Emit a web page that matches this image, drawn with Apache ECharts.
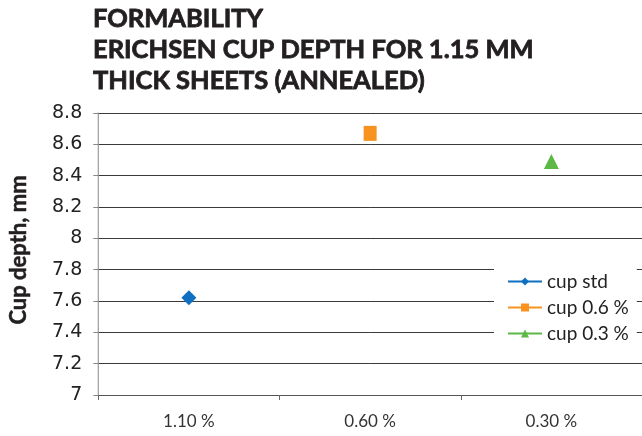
<!DOCTYPE html>
<html>
<head>
<meta charset="utf-8">
<script src="https://cdn.jsdelivr.net/npm/echarts@6/dist/echarts.min.js"></script>
<style>
  html, body { margin: 0; padding: 0; background: #fff; }
  #chart { width: 642px; height: 436px; }
</style>
</head>
<body>
<div id="chart"></div>
<script>
  // categories and values
  var categories = ['1.10 %', '0.60 %', '0.30 %'];
  var cupStd = [7.62, null, null];
  var cup06 = [null, 8.67, null];
  var cup03 = [null, null, 8.49];
  var yMin = 7, yMax = 8.8, yStep = 0.2;

  var chart = echarts.init(document.getElementById('chart'));
  chart.setOption({
    animation: false,
    title: {
      text: 'FORMABILITY\nERICHSEN CUP DEPTH FOR 1.15 MM\nTHICK SHEETS (ANNEALED)',
      left: 88,
      top: -2,
      textStyle: {
        fontFamily: 'Lato',
        fontWeight: 'bold',
        fontSize: 25.5,
        lineHeight: 31,
        color: '#231f20',
        textBorderColor: '#231f20',
        textBorderWidth: 0.8
      }
    },
    grid: { left: 95, right: 0, top: 113, bottom: 41 },
    legend: {
      left: 494,
      top: 266,
      orient: 'vertical',
      backgroundColor: '#fff',
      padding: [6, 8, 6, 13],
      itemWidth: 34,
      itemHeight: 10,
      itemGap: 7,
      textStyle: { fontFamily: 'Lato', fontSize: 19, color: '#222' },
      data: ['cup std', 'cup 0.6 %', 'cup 0.3 %']
    },
    xAxis: {
      type: 'category',
      data: categories,
      boundaryGap: true,
      axisLine: { lineStyle: { color: '#555', width: 1 } },
      axisTick: { show: true, length: 5, lineStyle: { color: '#666' } },
      axisLabel: { fontFamily: 'Lato', fontSize: 17, color: '#333', margin: 18 }
    },
    yAxis: {
      type: 'value',
      min: yMin,
      max: yMax,
      interval: yStep,
      name: 'Cup depth, mm',
      nameLocation: 'middle',
      nameGap: 68,
      nameTextStyle: {
        fontFamily: 'Lato', fontWeight: 'bold', fontSize: 22, color: '#231f20',
        textBorderColor: '#231f20', textBorderWidth: 0.5,
        padding: [0, 0, 0, 8]
      },
      axisLine: { show: true, lineStyle: { color: '#888' } },
      axisTick: { show: true, length: 5, lineStyle: { color: '#888' } },
      axisLabel: { fontFamily: 'DejaVu Sans', fontSize: 19, color: '#222', margin: 16 },
      splitLine: { lineStyle: { color: '#3a3a3a', width: 1 } }
    },
    series: [
      {
        name: 'cup std',
        type: 'line',
        data: cupStd,
        symbol: 'diamond',
        symbolSize: 15,
        itemStyle: { color: '#0f6fc0' },
        lineStyle: { color: '#0f6fc0', width: 3 }
      },
      {
        name: 'cup 0.6 %',
        type: 'line',
        data: cup06,
        symbol: 'rect',
        symbolSize: [13, 15],
        itemStyle: { color: '#f7931e' },
        lineStyle: { color: '#f7931e', width: 3 }
      },
      {
        name: 'cup 0.3 %',
        type: 'line',
        data: cup03,
        symbol: 'triangle',
        symbolSize: 15,
        itemStyle: { color: '#5db947' },
        lineStyle: { color: '#5db947', width: 3 }
      }
    ]
  });
</script>
</body>
</html>
